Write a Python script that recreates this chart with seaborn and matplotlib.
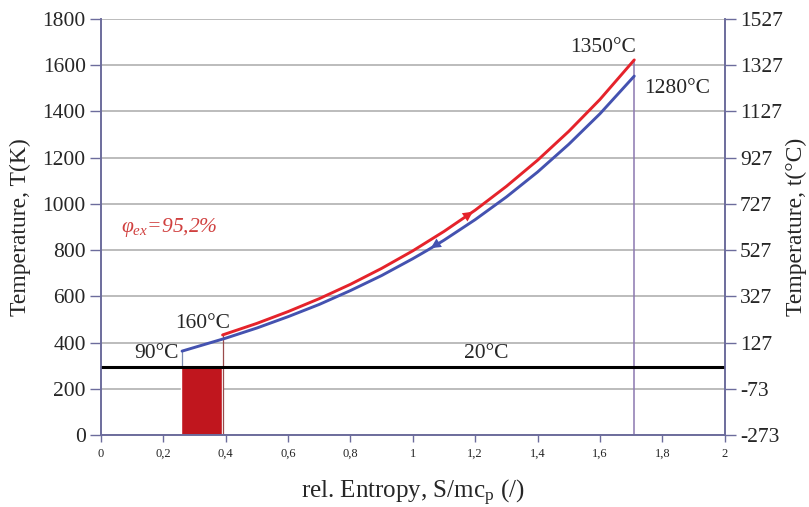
import matplotlib
matplotlib.use("Agg")
import matplotlib.pyplot as plt
import seaborn as sns
import pandas as pd

# values
red_s = [0.39, 0.5, 0.6, 0.7, 0.8, 0.9, 1.0, 1.1, 1.2, 1.3, 1.4, 1.5, 1.6, 1.71]
red_t = [433, 483, 534, 590, 652, 721, 797, 881, 973, 1076, 1189, 1314, 1452, 1623]
blue_s = [0.26, 0.3, 0.4, 0.5, 0.6, 0.7, 0.8, 0.9, 1.0, 1.05, 1.1, 1.2, 1.3, 1.4, 1.5, 1.6, 1.71]
blue_t = [363, 379, 419, 463, 512, 565, 625, 690, 763, 802, 843, 932, 1030, 1138, 1258, 1390, 1553]

ambient_t = 293          # 20 °C
bar_left, bar_right = 0.257, 0.388
y_ticks = [0, 200, 400, 600, 800, 1000, 1200, 1400, 1600, 1800]
x_ticks = [0, 0.2, 0.4, 0.6, 0.8, 1, 1.2, 1.4, 1.6, 1.8, 2]
x_labels = ['0', '0,2', '0,4', '0,6', '0,8', '1', '1,2', '1,4', '1,6', '1,8', '2']
c_labels = ['-273', '-73', '127', '327', '527', '727', '927', '1127', '1327', '1527']

sns.set_theme(style='white')
plt.rcParams['font.family'] = ['Liberation Serif', 'DejaVu Serif']
plt.rcParams['mathtext.fontset'] = 'custom'
plt.rcParams['mathtext.rm'] = 'Liberation Serif'
plt.rcParams['mathtext.it'] = 'Liberation Serif:italic'

RED = '#e5232b'
BLUE = '#4452b0'
SPINE = '#6c6c9c'

fig = plt.figure(figsize=(8.09, 5.07), dpi=100)
ax = fig.add_axes([0.1248, 0.142, 0.771, 0.8205])

for t in y_ticks:
    ax.axhline(t, color='#a9a9a9', lw=1.1, zorder=0)

# exergy loss bar
ax.bar((bar_left + bar_right) / 2, ambient_t, width=bar_right - bar_left,
       color='#c0161e', zorder=2)
ax.axhline(ambient_t, color='black', lw=2.2, zorder=3)

# thin vertical guide lines
ax.plot([blue_s[0], blue_s[0]], [ambient_t, blue_t[0]], color='#7a8ab0', lw=0.9, zorder=2)
ax.plot([red_s[0], red_s[0]], [0, red_t[0]], color='#9a4a4a', lw=0.9, zorder=2)
ax.plot([red_s[-1], red_s[-1]], [0, red_t[-1]], color='#8c78b0', lw=1.1, zorder=2)

red_df = pd.DataFrame({'S': red_s, 'T': red_t})
blue_df = pd.DataFrame({'S': blue_s, 'T': blue_t})
sns.lineplot(data=red_df, x='S', y='T', color=RED, lw=2.1, sort=False,
             estimator=None, ax=ax, zorder=4)
sns.lineplot(data=blue_df, x='S', y='T', color=BLUE, lw=2.1, sort=False,
             estimator=None, ax=ax, zorder=4)

# direction arrows
ax.annotate('', xy=(red_s[8], red_t[8]), xytext=(red_s[7], red_t[7]),
            arrowprops=dict(arrowstyle='-|>,head_length=0.6,head_width=0.3',
                            color=RED, lw=0, mutation_scale=12), zorder=5)
ax.annotate('', xy=(blue_s[9], blue_t[9]), xytext=(blue_s[11], blue_t[11]),
            arrowprops=dict(arrowstyle='-|>,head_length=0.6,head_width=0.3',
                            color=BLUE, lw=0, mutation_scale=12), zorder=5)

fs = 15.5
ax.annotate('1350°C', xy=(red_s[-1], red_t[-1]), xytext=(2, 3), textcoords='offset pixels',
            ha='right', va='bottom', fontsize=fs)
ax.annotate('1280°C', xy=(blue_s[-1], blue_t[-1]), xytext=(10, -12), textcoords='offset pixels',
            ha='left', va='center', fontsize=fs)
ax.annotate('90°C', xy=(blue_s[0], blue_t[0]), xytext=(-3, -2), textcoords='offset pixels',
            ha='right', va='center', fontsize=fs)
ax.annotate('160°C', xy=(red_s[0], red_t[0]), xytext=(-20, 11), textcoords='offset pixels',
            ha='center', va='center', fontsize=fs)
ax.annotate('20°C', xy=(1.165, ambient_t), xytext=(0, 4), textcoords='offset pixels',
            ha='left', va='bottom', fontsize=fs)
ax.text(0.064, 900, r'$\varphi_{ex}$=95,2%', color='#d0403f', style='italic',
        fontsize=fs, ha='left', va='center')

ax.set_xlim(0, 2)
ax.set_ylim(0, 1800)
ax.set_xticks(x_ticks)
ax.set_xticklabels(x_labels, fontsize=9)
ax.set_yticks(y_ticks)
ax.set_yticklabels([str(t) for t in y_ticks], fontsize=fs)
ax.set_xlabel('rel. Entropy, S/mc$_\\mathrm{p}$ (/)', fontsize=18, labelpad=13)
ax.set_ylabel('Temperature, T(K)', fontsize=17, labelpad=8)
ax.tick_params(axis='y', direction='out', length=8, width=1, color=SPINE, pad=3, left=True)
ax.tick_params(axis='x', direction='out', length=5, width=1, color=SPINE, pad=4, bottom=True)

ax2 = ax.twinx()
ax2.set_ylim(0, 1800)
ax2.set_yticks(y_ticks)
ax2.set_yticklabels(c_labels, fontsize=fs)
ax2.set_ylabel('Temperature, t(°C)', fontsize=17, labelpad=2)
ax2.tick_params(axis='y', direction='out', length=8, width=1, color=SPINE, pad=3, right=True)
ax2.grid(False)

for a in (ax, ax2):
    a.spines['top'].set_visible(False)
    for side in ('left', 'right', 'bottom'):
        a.spines[side].set_color(SPINE)
        a.spines[side].set_linewidth(1.2)

fig.savefig('out.png', dpi=100)
